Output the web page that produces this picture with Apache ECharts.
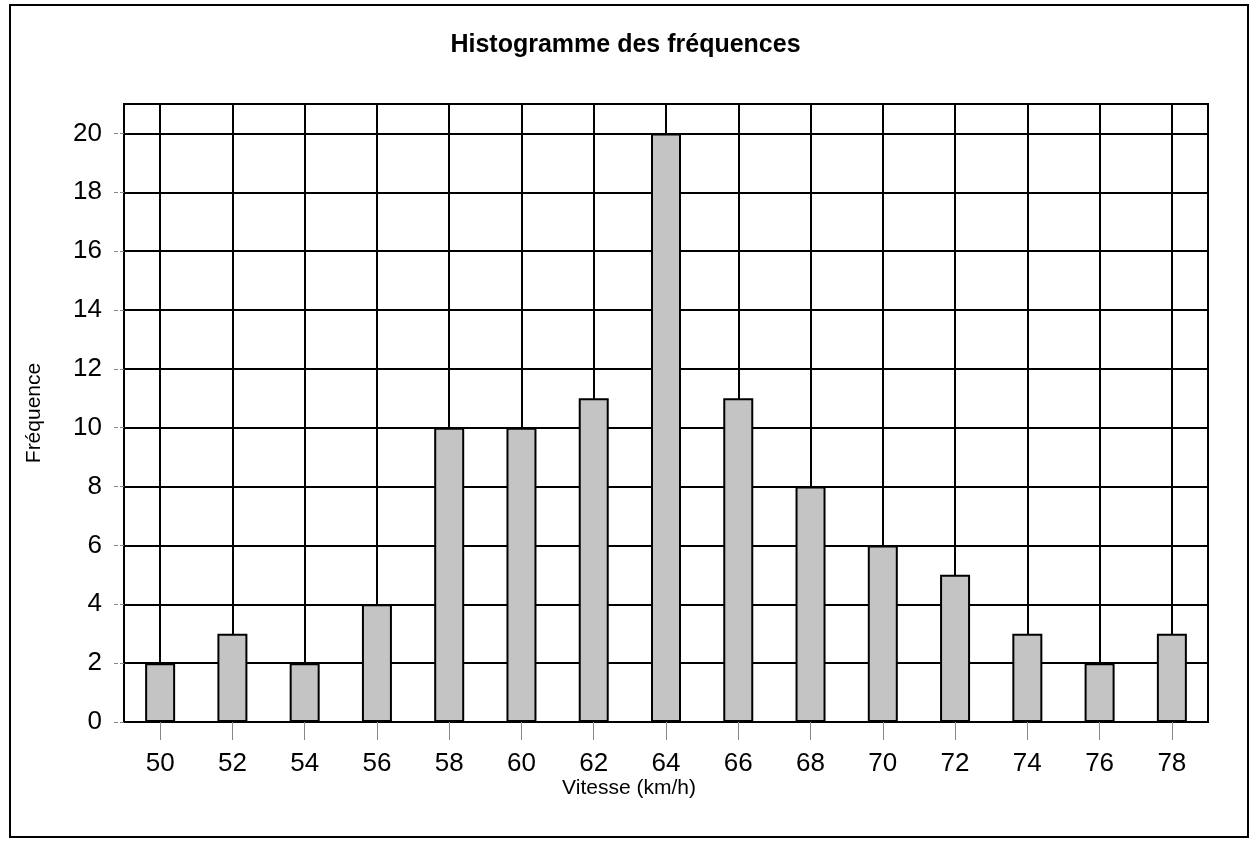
<!DOCTYPE html>
<html>
<head>
<meta charset="utf-8">
<script src="https://cdn.jsdelivr.net/npm/echarts@6/dist/echarts.min.js"></script>
<style>
html,body{margin:0;padding:0;background:#fff;}
#chart{width:1251px;height:844px;}
</style>
</head>
<body>
<div id="chart"></div>
<script>
const categories = ['50','52','54','56','58','60','62','64','66','68','70','72','74','76','78'];
const frequencies = [2,3,2,4,10,10,11,20,11,8,6,5,3,2,3];
const titleText = 'Histogramme des fréquences';
const xTitle = 'Vitesse (km/h)';
const yTitle = 'Fréquence';

const FONT = "'Liberation Sans', Arial, sans-serif";
const chart = echarts.init(document.getElementById('chart'));
chart.setOption({
  backgroundColor: '#ffffff',
  animation: false,
  title: {
    text: titleText,
    left: 'center',
    top: 28,
    textStyle: { fontFamily: FONT, fontSize: 25, fontWeight: 'bold', color: '#000' }
  },
  graphic: [
    { type: 'rect', shape: { x: 10, y: 5, width: 1238, height: 832 },
      style: { fill: 'none', stroke: '#000', lineWidth: 2 }, z: -10 },
    { type: 'text', x: 629, y: 788,
      style: { text: xTitle, fontFamily: FONT, fontSize: 21, fill: '#000',
               align: 'center', verticalAlign: 'middle' } }
  ],
  grid: {
    left: 124, right: 43, top: 104, bottom: 122,
    show: true, borderColor: '#000', borderWidth: 2, backgroundColor: 'transparent'
  },
  xAxis: {
    type: 'category',
    data: categories,
    boundaryGap: true,
    axisLine: { show: true, lineStyle: { color: '#000', width: 2 } },
    axisTick: { show: true, alignWithLabel: true, length: 18, lineStyle: { color: '#888', width: 1 } },
    axisLabel: { fontFamily: FONT, fontSize: 26, color: '#000', margin: 29 },
    splitLine: { show: true, alignWithLabel: true, lineStyle: { color: '#000', width: 2 } }
  },
  yAxis: {
    type: 'value',
    min: 0, max: 21, interval: 2,
    name: yTitle,
    nameLocation: 'middle',
    nameRotate: 90,
    nameGap: 79,
    nameTextStyle: { fontFamily: FONT, fontSize: 21, color: '#000' },
    axisLine: { show: true, lineStyle: { color: '#000', width: 2 } },
    axisTick: { show: true, length: 12, lineStyle: { color: '#888', width: 1, type: 'dashed' } },
    axisLabel: { fontFamily: FONT, fontSize: 26, color: '#000', margin: 22, showMaxLabel: false },
    splitLine: { show: true, lineStyle: { color: '#000', width: 2 } }
  },
  series: [{
    type: 'bar',
    data: frequencies,
    barWidth: 30,
    itemStyle: { color: '#c4c4c4', borderColor: '#000', borderWidth: 2 },
    z: 5
  }]
});
</script>
</body>
</html>
